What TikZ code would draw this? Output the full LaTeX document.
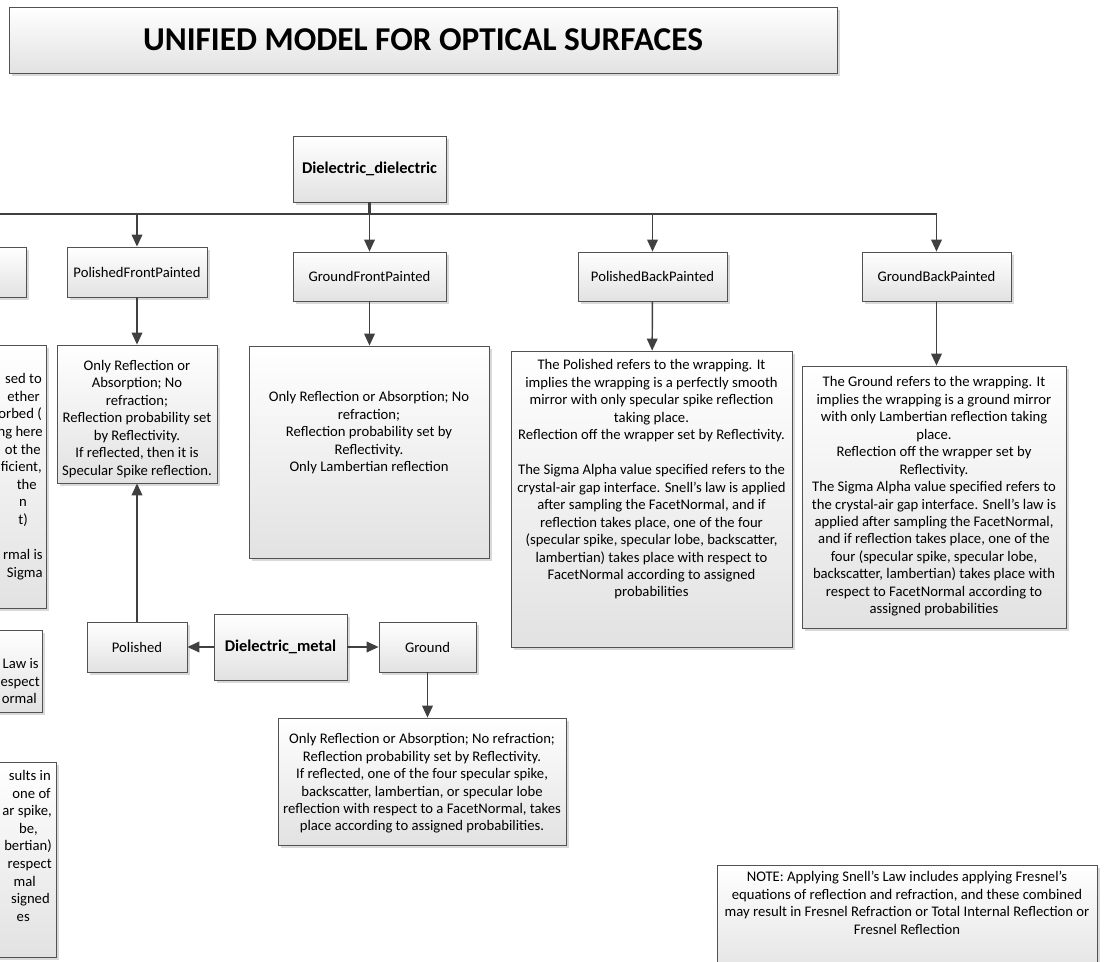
\documentclass[tikz,border=0pt]{standalone}
\usepackage{fontspec}
\setmainfont{Carlito}
\usetikzlibrary{arrows.meta,positioning,shadows}

\definecolor{boxline}{HTML}{525252}
\definecolor{linkline}{HTML}{404040}
\definecolor{boxshade}{HTML}{E2E2E2}

\begin{document}
\begin{tikzpicture}[x=0.75pt,y=-0.75pt,->,>={Triangle[length=9pt,width=8pt]},
        font=\fontsize{11}{13.1}\selectfont,
        box/.style={draw=boxline,line width=0.6pt,top color=white,bottom color=boxshade,
                    drop shadow={shadow xshift=2.2pt,shadow yshift=-2.2pt,opacity=0.3},
                    inner sep=0pt,align=center},
        txt/.style={align=center,inner sep=0pt},
        link/.style={draw=linkline,line width=1.1pt},
        bus/.style={draw=linkline,line width=2pt,-}]
  \useasboundingbox (0,0) rectangle (1104,962);
  \clip (0,0) rectangle (1104,962);

  % title
  \node[box,minimum width=621pt,minimum height=49.5pt,
        font=\fontsize{25}{30}\selectfont\bfseries] (title) at (423,40)
        {UNIFIED MODEL FOR OPTICAL SURFACES};

  % dielectric_dielectric and its children
  \node[box,minimum width=114.75pt,minimum height=49.5pt,
        font=\fontsize{12.3}{14}\selectfont\bfseries] (dd) at (369.5,169) {Dielectric\_dielectric};
  \node[box,minimum width=94.5pt,minimum height=37.5pt] (lft) at (-37,272) {};
  \node[box,minimum width=105pt,minimum height=37.5pt] (pfp) at (137,272) {PolishedFrontPainted};
  \node[box,minimum width=114.75pt,minimum height=36.75pt] (gfp) at (369.5,276.5) {GroundFrontPainted};
  \node[box,minimum width=111.75pt,minimum height=36.75pt] (pbp) at (652.5,276.5) {PolishedBackPainted};
  \node[box,minimum width=111.75pt,minimum height=36.75pt] (gbp) at (936.5,276.5) {GroundBackPainted};

  \coordinate (busL) at (-10,214);
  \coordinate (busR) at (gbp.north |- busL);
  \draw[bus] (dd.south) -- (dd.south |- busL);
  \draw[bus] (busL) -- (busR);
  \draw[link] (pfp.north |- busL) -- (pfp.north);
  \draw[link] (gfp.north |- busL) -- (gfp.north);
  \draw[link] (pbp.north |- busL) -- (pbp.north);
  \draw[link] (busR) -- (gbp.north);

  % description boxes
  \node[box,minimum width=147pt,minimum height=197.25pt] (lftD) at (-52,476.5) {};
  \node[box,minimum width=120pt,minimum height=103.5pt] (pfpD) at (137,414) {};
  \node[box,minimum width=180pt,minimum height=159pt] (gfpD) at (369,452) {};
  \node[box,minimum width=210.75pt,minimum height=222pt] (pbpD) at (651.5,499) {};
  \node[box,minimum width=198pt,minimum height=196.5pt] (gbpD) at (934,497) {};
  \node[box,minimum width=144pt,minimum height=61.5pt] (lftE) at (-54,671) {};
  \node[box,minimum width=154.5pt,minimum height=146.25pt] (lftF) at (-47,859.5) {};

  \draw[link] (pfp) -- (pfpD);
  \draw[link] (gfp.south) -- (gfp.south |- gfpD.north);
  \draw[link] (pbp) -- (pbpD);
  \draw[link] (gbp.south) -- (gbp.south |- gbpD.north);

  \node[txt] (pfpT) at (137,419) {Only Reflection or\\Absorption; No\\refraction;\\
    Reflection probability set\\by Reflectivity.\\If reflected, then it is\\Specular Spike reflection.};
  \node[txt] (gfpT) at (369,433) {Only Reflection or Absorption; No\\refraction;\\
    Reflection probability set by\\Reflectivity.\\Only Lambertian reflection};
  \node[txt] (pbpT) at (651.5,479.5) {The Polished refers to the wrapping. It\\
    implies the wrapping is a perfectly smooth\\mirror with only specular spike reflection\\
    taking place.\\Reflection off the wrapper set by Reflectivity.\\[13.1pt]
    The Sigma Alpha value specified refers to the\\crystal-air gap interface. Snell’s law is applied\\
    after sampling the FacetNormal, and if\\reflection takes place, one of the four\\
    (specular spike, specular lobe, backscatter,\\lambertian) takes place with respect to\\
    FacetNormal according to assigned\\probabilities};
  \node[txt] (gbpT) at (934,496.5) {The Ground refers to the wrapping. It\\
    implies the wrapping is a ground mirror\\with only Lambertian reflection taking\\place.\\
    Reflection off the wrapper set by\\Reflectivity.\\
    The Sigma Alpha value specified refers to\\the crystal-air gap interface. Snell’s law is\\
    applied after sampling the FacetNormal,\\and if reflection takes place, one of the\\
    four (specular spike, specular lobe,\\backscatter, lambertian) takes place with\\
    respect to FacetNormal according to\\assigned probabilities};

  % cut-off boxes on the left edge
  \foreach \frag/\xe/\yb [count=\i] in {sed to/42/384, ether/40/402, orbed (/42/419,
      ng here/43/437, ot the/41/455, {ficient,}/42/472, the/37/490, n/27/507, t)/28/525,
      rmal is/43/560, Sigma/43/578,
      Law is/39/668, espect/40/686, ormal/37/703,
      sults in/51/780, one of/51/798, {ar spike,}/52/815, {be,}/38/833, bertian)/52/850,
      respect/52/868, mal/36/886, signed/50/903, es/30/921}
    \node[txt,anchor=base east] (frag\i) at (\xe,\yb) {\frag};

  % dielectric_metal
  \node[box,minimum width=99.75pt,minimum height=49.5pt,
        font=\fontsize{12.3}{15}\selectfont\bfseries] (dm) at (280.5,647) {Dielectric\_metal};
  \node[box,minimum width=75pt,minimum height=37.5pt] (polished) at (137,647) {Polished};
  \node[box,minimum width=72.75pt,minimum height=37.5pt] (ground) at (427.5,647) {Ground};
  \node[box,minimum width=216pt,minimum height=95.25pt] (groundD) at (422,781.5) {};

  \draw[link] (dm) -- (polished);
  \draw[link] (dm) -- (ground);
  \draw[link] (polished) -- (pfpD);
  \draw[link] (ground.south) -- (ground.south |- groundD.north);

  \node[txt] (groundT) at (422,783.5) {Only Reflection or Absorption; No refraction;\\
    Reflection probability set by Reflectivity.\\If reflected, one of the four specular spike,\\
    backscatter, lambertian, or specular lobe\\reflection with respect to a FacetNormal, takes\\
    place according to assigned probabilities.};

  % note
  \node[box,minimum width=285pt,minimum height=86.25pt] (note) at (907,922.5) {};
  \node[txt] (noteT) at (907,903) {NOTE: Applying Snell’s Law includes applying Fresnel’s\\
    equations of reflection and refraction, and these combined\\
    may result in Fresnel Refraction or Total Internal Reflection or\\Fresnel Reflection};
\end{tikzpicture}
\end{document}
